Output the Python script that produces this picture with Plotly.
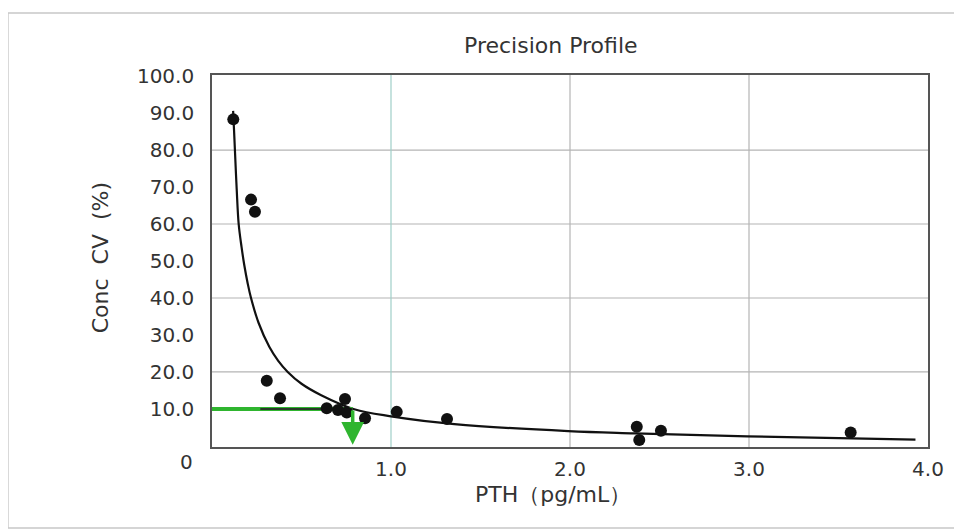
import plotly.graph_objects as go

# ---- data ----
pth = [0.119, 0.218, 0.240, 0.306, 0.380, 0.641, 0.704, 0.743, 0.753, 0.855,
       1.032, 1.313, 2.373, 2.387, 2.508, 3.568]
cv = [88.3, 66.6, 63.3, 17.6, 12.9, 10.2, 9.7, 12.7, 9.0, 7.5,
      9.2, 7.3, 5.2, 1.6, 4.1, 3.6]

# fitted precision-profile curve
curve_x = [0.118, 0.123, 0.128, 0.138, 0.149, 0.165, 0.180, 0.200, 0.218,
           0.260, 0.320, 0.370, 0.423, 0.500, 0.610, 0.795, 1.000, 1.354,
           1.990, 2.360, 2.990, 3.930]
curve_y = [90.6, 85.5, 80.0, 69.4, 60.0, 53.8, 49.0, 43.8, 40.0,
           33.3, 26.8, 23.0, 20.0, 16.8, 13.7, 9.9, 8.0, 5.9,
           4.0, 3.4, 2.6, 1.7]

cutoff_cv = 10.0      # 10 % CV line
lod_x = 0.786         # concentration at 10 % CV
dark_start = 0.27

x_ticks = [1, 2, 3, 4]
x_ticktext = ["1.0", "2.0", "3.0", "4.0"]
y_ticks = [0, 10, 20, 30, 40, 50, 60, 70, 80, 90, 100]
y_ticktext = ["", "10.0", "20.0", "30.0", "40.0", "50.0", "60.0", "70.0", "80.0", "90.0", "100.0"]
y_grid = [20, 40, 60, 80]
x_grid = [1, 2, 3]
x_grid_colors = ["#9fcfc8", "#b4b4b4", "#b4b4b4"]

FONT = "DejaVu Sans, Liberation Sans, Arial, sans-serif"
TXT = "#333333"
GREEN = "#2fb52f"

fig = go.Figure()

fig.add_trace(go.Scatter(
    x=curve_x, y=curve_y, mode="lines",
    line=dict(color="#111111", width=2.2, shape="spline", smoothing=1.0),
    hoverinfo="skip", showlegend=False))

fig.add_trace(go.Scatter(
    x=[0, lod_x], y=[cutoff_cv, cutoff_cv], mode="lines",
    line=dict(color=GREEN, width=4), showlegend=False))
fig.add_trace(go.Scatter(
    x=[dark_start, lod_x], y=[cutoff_cv, cutoff_cv], mode="lines",
    line=dict(color="#2a3a2a", width=2), showlegend=False))

fig.add_trace(go.Scatter(
    x=pth, y=cv, mode="markers",
    marker=dict(color="#111111", size=12), showlegend=False))

shapes = []
for g in y_grid:
    shapes.append(dict(type="line", xref="paper", x0=0, x1=1, yref="y", y0=g, y1=g,
                       line=dict(color="#b4b4b4", width=1.2), layer="below"))
for g, c in zip(x_grid, x_grid_colors):
    shapes.append(dict(type="line", xref="x", x0=g, x1=g, yref="paper", y0=0, y1=1,
                       line=dict(color=c, width=1.2), layer="below"))
# outer frame of the scanned figure
shapes.append(dict(type="rect", xref="paper", yref="paper",
                   x0=-0.285, x1=1.06, y0=-0.218, y1=1.167,
                   line=dict(color="#c8c8c8", width=1.5), layer="below"))

annotations = [
    dict(text="Precision Profile", x=0.473, y=1.078, xref="paper", yref="paper",
         xanchor="center", yanchor="middle",
         showarrow=False, font=dict(family=FONT, size=22, color=TXT)),
    dict(text="PTH（pg/mL）", x=0.476, y=-0.129, xref="paper", yref="paper",
         xanchor="center", yanchor="middle",
         showarrow=False, font=dict(family=FONT, size=22, color=TXT)),
    dict(text="Conc  CV  (%)", x=-0.156, y=0.508, xref="paper", yref="paper",
         xanchor="center", yanchor="middle",
         textangle=-90, showarrow=False, font=dict(family=FONT, size=22, color=TXT)),
    dict(text="0", x=-0.035, y=-0.04, xref="paper", yref="paper",
         xanchor="center", yanchor="middle",
         showarrow=False, font=dict(family=FONT, size=20, color=TXT)),
    dict(x=lod_x, y=0.3, ax=lod_x, ay=cutoff_cv, xref="x", yref="y", axref="x", ayref="y",
         text="", showarrow=True, arrowhead=2, arrowsize=1.3, arrowwidth=3.5,
         arrowcolor=GREEN, standoff=0),
]

fig.update_layout(
    width=954, height=523,
    margin=dict(l=204, r=34, t=67, b=84),
    paper_bgcolor="white", plot_bgcolor="white",
    font=dict(family=FONT, color=TXT),
    shapes=shapes, annotations=annotations,
    xaxis=dict(range=[0, 4], tickvals=x_ticks, ticktext=x_ticktext,
               showgrid=False, zeroline=False, showline=True, mirror=True,
               linecolor="#555555", linewidth=1.6, ticks="", ticklabelstandoff=3,
               tickfont=dict(family=FONT, size=20, color=TXT)),
    yaxis=dict(range=[-0.3, 100.3], tickvals=y_ticks, ticktext=y_ticktext,
               showgrid=False, zeroline=False, showline=True, mirror=True,
               linecolor="#555555", linewidth=1.6, ticks="", ticklabelstandoff=12,
               tickfont=dict(family=FONT, size=20, color=TXT)),
)

fig.write_html("out.html")
